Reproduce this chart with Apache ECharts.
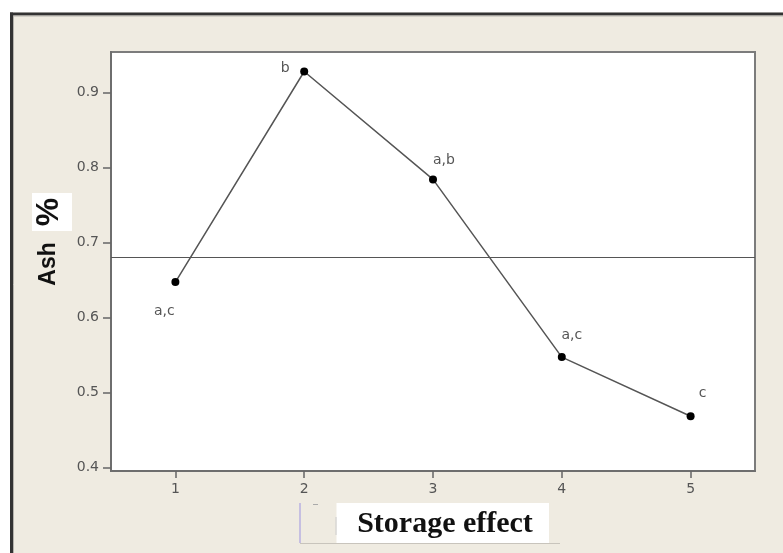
<!DOCTYPE html>
<html>
<head>
<meta charset="utf-8">
<script src="https://cdn.jsdelivr.net/npm/echarts@6/dist/echarts.min.js"></script>
<style>
html,body{margin:0;padding:0;background:#fff;}
#chart{width:783px;height:553px;}
</style>
</head>
<body>
<div id="chart"></div>
<script>
// ---- data ----
const categories = ['1', '2', '3', '4', '5'];
const ashValues = [0.647, 0.928, 0.784, 0.547, 0.468];
const groupLetters = ['a,c', 'b', 'a,b', 'a,c', 'c'];
const grandMean = 0.675;
const yTicks = [0.4, 0.5, 0.6, 0.7, 0.8, 0.9];
const yRange = [0.395, 0.954];
const xTitle = 'Storage effect';
const yTitle = 'Ash';
const yUnit = '%';

// ---- styling (positions of letter labels relative to their points) ----
const letterOffsets = [[-11, 29], [-19, -3], [11, -19], [10, -22], [12, -23]];

const chart = echarts.init(document.getElementById('chart'), null, {renderer: 'canvas'});

const labelFont = {fontFamily: 'DejaVu Sans', fontSize: 14, color: '#555'};

const option = {
  backgroundColor: '#EFEBE1',
  animation: false,
  grid: {
    left: 111, top: 52, right: 28, bottom: 82,
    show: true, backgroundColor: '#fff', borderColor: '#7c7c7c', borderWidth: 2
  },
  xAxis: {
    type: 'category',
    data: categories,
    boundaryGap: true,
    axisLine: {show: true, lineStyle: {color: '#6e6e6e', width: 2}},
    axisTick: {show: true, alignWithLabel: true, length: 7, lineStyle: {color: '#666', width: 1.5}},
    axisLabel: Object.assign({margin: 11}, labelFont),
    splitLine: {show: false}
  },
  yAxis: {
    type: 'value',
    min: yRange[0], max: yRange[1],
    axisLine: {show: true, lineStyle: {color: '#6e6e6e', width: 2}},
    axisTick: {show: true, length: 8, customValues: yTicks, lineStyle: {color: '#666', width: 1.5}},
    axisLabel: Object.assign({margin: 12, customValues: yTicks, formatter: v => v.toFixed(1)}, labelFont),
    splitLine: {show: false}
  },
  series: [{
    type: 'line',
    data: ashValues.map((v, i) => ({
      value: v,
      label: {
        show: true,
        position: 'inside',
        offset: letterOffsets[i],
        formatter: groupLetters[i],
        align: 'center', verticalAlign: 'middle',
        fontFamily: 'DejaVu Sans', fontSize: 14, color: '#555'
      }
    })),
    symbol: 'circle',
    symbolSize: 8,
    itemStyle: {color: '#000'},
    lineStyle: {color: '#555', width: 1.5},
    markLine: {
      silent: true,
      symbol: 'none',
      label: {show: false},
      lineStyle: {color: '#555', width: 1, type: 'solid'},
      data: [{yAxis: grandMean}]
    }
  }],
  graphic: [
    // white margin outside frame
    {type: 'rect', shape: {x: 0, y: 0, width: 783, height: 12.5}, style: {fill: '#fff'}, z: 100},
    {type: 'rect', shape: {x: 0, y: 0, width: 10, height: 553}, style: {fill: '#fff'}, z: 100},
    // frame lines
    {type: 'line', shape: {x1: 10, y1: 14, x2: 783, y2: 14}, style: {stroke: '#333', lineWidth: 3}, z: 101},
    {type: 'line', shape: {x1: 11.5, y1: 12.5, x2: 11.5, y2: 553}, style: {stroke: '#333', lineWidth: 3}, z: 101},
    {type: 'line', shape: {x1: 14, y1: 16, x2: 783, y2: 16}, style: {stroke: '#b5b3ad', lineWidth: 1}, z: 101},
    {type: 'line', shape: {x1: 13.5, y1: 16, x2: 13.5, y2: 553}, style: {stroke: '#b5b3ad', lineWidth: 1}, z: 101},
    // y title
    {type: 'rect', shape: {x: 32, y: 193, width: 40, height: 38}, style: {fill: '#fff'}, z: 100},
    {type: 'text', x: 49, y: 212, rotation: Math.PI / 2,
      style: {text: yUnit, fontFamily: 'Liberation Sans', fontWeight: 'bold', fontSize: 32, fill: '#111', align: 'center', verticalAlign: 'middle'}, z: 101},
    {type: 'text', x: 48.5, y: 264, rotation: Math.PI / 2,
      style: {text: yTitle, fontFamily: 'Liberation Sans', fontWeight: 'bold', fontSize: 23, fill: '#111', align: 'center', verticalAlign: 'middle'}, z: 101},
    // x title
    {type: 'line', shape: {x1: 300, y1: 503, x2: 300, y2: 543}, style: {stroke: '#b8b0e0', lineWidth: 1.5}, z: 100},
    {type: 'line', shape: {x1: 300, y1: 543.5, x2: 560, y2: 543.5}, style: {stroke: '#c8c4bc', lineWidth: 1}, z: 100},
    {type: 'line', shape: {x1: 313, y1: 504.5, x2: 318, y2: 504.5}, style: {stroke: '#aaa', lineWidth: 1}, z: 100},
    {type: 'rect', shape: {x: 336.5, y: 503, width: 212.5, height: 40}, style: {fill: '#fff'}, z: 100},
    {type: 'line', shape: {x1: 336, y1: 517, x2: 336, y2: 535}, style: {stroke: '#ccc', lineWidth: 1}, z: 101},
    {type: 'text', x: 445, y: 524,
      style: {text: xTitle, fontFamily: 'Liberation Serif', fontWeight: 'bold', fontSize: 30, fill: '#111', align: 'center', verticalAlign: 'middle'}, z: 101}
  ]
};
chart.setOption(option);
</script>
</body>
</html>
